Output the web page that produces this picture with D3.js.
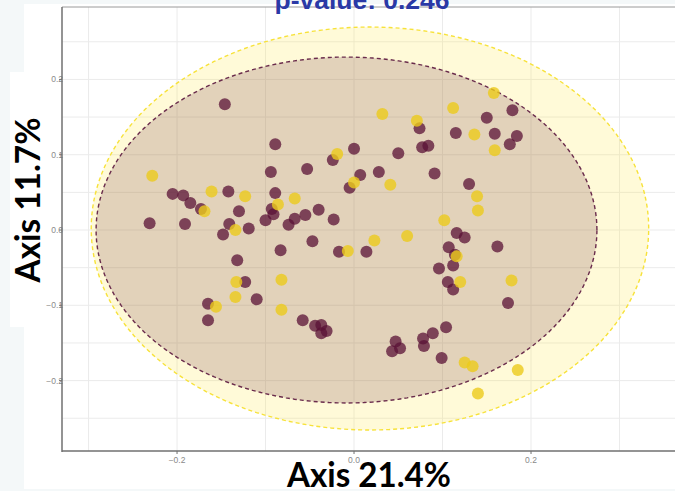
<!DOCTYPE html>
<html><head><meta charset="utf-8">
<script src="https://cdn.jsdelivr.net/npm/d3@7"></script>
<style>html,body{margin:0;padding:0;background:#f4f8f9;overflow:hidden}</style>
</head><body>
<script>
// ---- data ----
const groupNames = ["A", "B"];
const maroonX = [-0.146,-0.089,-0.094,-0.205,-0.193,-0.185,-0.142,-0.089,-0.173,-0.130,-0.093,-0.091,-0.100,-0.231,-0.191,-0.141,-0.119,-0.148,-0.132,-0.083,-0.053,-0.074,-0.067,-0.055,-0.040,-0.023,-0.047,-0.017,0.014,0.116,0.125,0.107,0.114,-0.024,0.000,0.007,-0.005,0.028,0.050,0.074,0.077,0.084,0.091,0.115,0.130,0.179,0.150,0.159,0.184,0.176,0.162,-0.123,-0.110,-0.165,-0.165,0.112,0.096,0.106,0.112,-0.058,-0.044,-0.037,-0.037,-0.031,0.047,0.052,0.043,0.078,0.089,0.079,0.104,0.099,0.174];
const maroonY = [0.167,0.114,0.077,0.048,0.046,0.036,0.051,0.049,0.028,0.025,0.028,0.021,0.013,0.009,0.008,0.008,0.002,-0.006,-0.040,-0.027,0.081,0.007,0.015,0.020,0.027,0.014,-0.015,-0.029,-0.029,-0.004,-0.010,-0.023,-0.033,0.093,0.108,0.073,0.056,0.077,0.102,0.135,0.110,0.112,0.075,0.129,0.061,0.159,0.149,0.128,0.125,0.114,-0.022,-0.069,-0.092,-0.098,-0.120,-0.047,-0.051,-0.069,-0.079,-0.120,-0.127,-0.126,-0.137,-0.134,-0.148,-0.157,-0.161,-0.144,-0.137,-0.154,-0.129,-0.170,-0.097];
const yellowX = [-0.228,-0.161,-0.123,-0.169,-0.086,-0.134,-0.067,-0.007,0.023,0.060,0.102,0.116,-0.019,0.000,0.041,0.032,0.071,0.112,0.136,0.139,0.140,0.158,0.159,-0.133,-0.134,-0.156,-0.082,-0.082,0.120,0.125,0.134,0.140,0.178,0.185];
const yellowY = [0.072,0.051,0.045,0.025,0.034,0.000,0.042,-0.028,-0.014,-0.008,0.013,-0.035,0.101,0.063,0.060,0.154,0.145,0.162,0.127,0.045,0.026,0.182,0.106,-0.069,-0.089,-0.102,-0.066,-0.106,-0.069,-0.176,-0.181,-0.217,-0.067,-0.186];
// ellipse parameters: [cx, cy, rx, ry]
const ellipseYellow = [0.018, 0.002, 0.315, 0.2676];
const ellipseMaroon = [-0.0085, 0.0, 0.283, 0.2297];
const xTicks = [-0.2, 0.0, 0.2];
const yTicks = [0.2, 0.1, 0.0, -0.1, -0.2];
const xGrid = [-0.3, -0.2, -0.1, 0.0, 0.1, 0.2, 0.3];
const yGrid = [0.25, 0.2, 0.15, 0.1, 0.05, 0.0, -0.05, -0.1, -0.15, -0.2, -0.25];
const titleText = "p-value: 0.246";
const xLabel = "Axis 21.4%";
const yLabel = "Axis 11.7%";

// ---- layout ----
const W = 675, H = 491;
const L = 62, R = 675, T = 7, B = 451;
const x = d3.scaleLinear().domain([-0.33, 0.3627]).range([L, R]);
const y = d3.scaleLinear().domain([-0.2935, 0.2962]).range([B, T]);

const svg = d3.select("body").append("svg").attr("width", W).attr("height", H);
// white background regions
svg.append("rect").attr("x", 24).attr("y", 4).attr("width", W - 24).attr("height", 485).attr("fill", "#fff");
svg.append("rect").attr("x", 10).attr("y", 72).attr("width", 16).attr("height", 255).attr("fill", "#fff");

// panel
svg.append("defs").append("clipPath").attr("id", "clip")
  .append("rect").attr("x", L).attr("y", T).attr("width", R - L).attr("height", B - T);
svg.append("rect").attr("x", L).attr("y", T).attr("width", R - L).attr("height", B - T).attr("fill", "#fff");

// y tick labels (slightly touching the axis line)
svg.append("g").selectAll("text").data(yTicks).join("text")
  .attr("x", L + 1).attr("y", d => y(d) + 3)
  .attr("text-anchor", "end").attr("font-family", "Liberation Sans, Arial, sans-serif")
  .attr("font-size", 8.5).attr("fill", "#8a8a8a")
  .text(d => d3.format(".1f")(d));

const panel = svg.append("g").attr("clip-path", "url(#clip)");
panel.selectAll("line.gx").data(xGrid).join("line")
  .attr("x1", d => x(d)).attr("x2", d => x(d)).attr("y1", T).attr("y2", B)
  .attr("stroke", "#ebebeb").attr("stroke-width", 1);
panel.selectAll("line.gy").data(yGrid).join("line")
  .attr("y1", d => y(d)).attr("y2", d => y(d)).attr("x1", L).attr("x2", R)
  .attr("stroke", "#ebebeb").attr("stroke-width", 1);

function ellipsePath(p) {
  const pts = d3.range(0, 361, 2).map(a => {
    const t = a * Math.PI / 180;
    return [x(p[0] + p[2] * Math.cos(t)), y(p[1] + p[3] * Math.sin(t))];
  });
  return d3.line()(pts) + "Z";
}
panel.append("path").attr("d", ellipsePath(ellipseYellow))
  .attr("fill", "rgba(255,230,60,0.2)").attr("stroke", "#f7e23a")
  .attr("stroke-width", 1.4).attr("stroke-dasharray", "4,3");
panel.append("path").attr("d", ellipsePath(ellipseMaroon))
  .attr("fill", "rgba(110,50,70,0.2)").attr("stroke", "#6a2c4c")
  .attr("stroke-width", 1.4).attr("stroke-dasharray", "4,3");

panel.selectAll("circle.m").data(maroonX.map((v, i) => [v, maroonY[i]])).join("circle")
  .attr("cx", d => x(d[0])).attr("cy", d => y(d[1])).attr("r", 6)
  .attr("fill", "#5a1236").attr("fill-opacity", 0.75);
panel.selectAll("circle.y").data(yellowX.map((v, i) => [v, yellowY[i]])).join("circle")
  .attr("cx", d => x(d[0])).attr("cy", d => y(d[1])).attr("r", 6)
  .attr("fill", "#ecca1c").attr("fill-opacity", 0.8);

// borders / axes
svg.append("line").attr("x1", L).attr("x2", R).attr("y1", T).attr("y2", T).attr("stroke", "#9a9a9a").attr("stroke-width", 1);
svg.append("line").attr("x1", L).attr("x2", L).attr("y1", T).attr("y2", B + 1).attr("stroke", "#707070").attr("stroke-width", 1.5);
svg.append("line").attr("x1", L).attr("x2", R).attr("y1", B).attr("y2", B).attr("stroke", "#707070").attr("stroke-width", 1.5);

svg.append("g").selectAll("line").data(xTicks).join("line")
  .attr("x1", d => x(d)).attr("x2", d => x(d)).attr("y1", B).attr("y2", B + 3).attr("stroke", "#707070");
svg.append("g").selectAll("line").data(yTicks).join("line")
  .attr("x1", L - 3).attr("x2", L).attr("y1", d => y(d)).attr("y2", d => y(d)).attr("stroke", "#707070");
svg.append("g").selectAll("text").data(xTicks).join("text")
  .attr("x", d => x(d)).attr("y", B + 12)
  .attr("text-anchor", "middle").attr("font-family", "Liberation Sans, Arial, sans-serif")
  .attr("font-size", 8.5).attr("fill", "#8a8a8a")
  .text(d => d3.format(".1f")(d));

// labels
svg.append("text").attr("x", 369).attr("y", 487).attr("text-anchor", "middle")
  .attr("font-family", "Lato, sans-serif").attr("font-weight", "bold").attr("font-size", 34)
  .attr("textLength", 164).attr("lengthAdjust", "spacingAndGlyphs").attr("fill", "#000").text(xLabel);
svg.append("text").attr("transform", "translate(40,200) rotate(-90)").attr("text-anchor", "middle")
  .attr("font-family", "Lato, sans-serif").attr("font-weight", "bold").attr("font-size", 34)
  .attr("textLength", 165).attr("lengthAdjust", "spacingAndGlyphs").attr("fill", "#000").text(yLabel);
svg.append("text").attr("x", 362).attr("y", 9).attr("text-anchor", "middle")
  .attr("font-family", "Liberation Sans, Arial, sans-serif").attr("font-weight", "bold").attr("font-size", 25)
  .attr("textLength", 175).attr("lengthAdjust", "spacingAndGlyphs").attr("fill", "#2a39a6").text(titleText);
</script>
</body></html>
